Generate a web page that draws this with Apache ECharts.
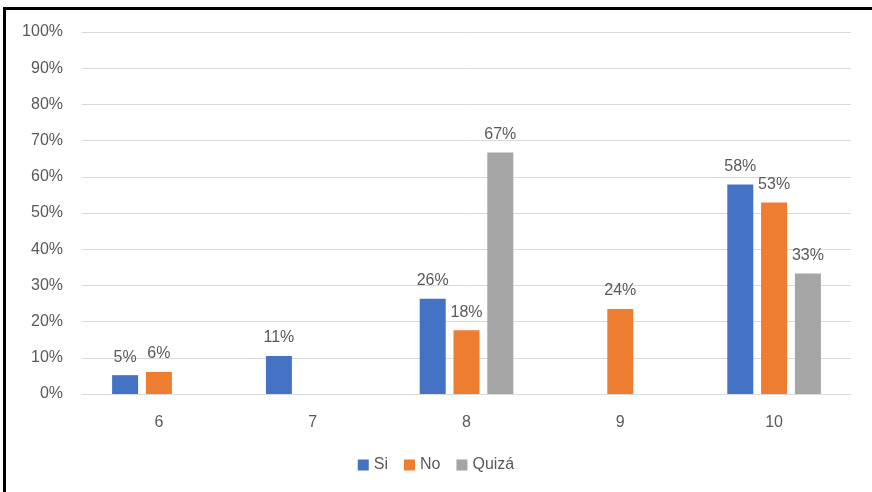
<!DOCTYPE html>
<html>
<head>
<meta charset="utf-8">
<script src="https://cdn.jsdelivr.net/npm/echarts@6/dist/echarts.min.js"></script>
<style>
html,body{margin:0;padding:0;background:#fff;}
#wrap{position:relative;width:872px;height:492px;overflow:hidden;}
#frame{position:absolute;left:3px;top:7px;width:900px;height:520px;border-top:3px solid #000;border-left:3px solid #000;box-sizing:border-box;pointer-events:none;}
#chart{position:absolute;left:0;top:0;width:872px;height:492px;}
</style>
</head>
<body>
<div id="wrap"><div id="chart"></div><div id="frame"></div></div>
<script>
var categories = ['6','7','8','9','10'];
var siValues = [5.2, 10.5, 26.3, null, 57.9];
var noValues = [6.1, null, 17.6, 23.5, 52.9];
var quizaValues = [null, null, 66.7, null, 33.3];
var yTicks = [0,10,20,30,40,50,60,70,80,90,100];

var font = "'Liberation Sans', Arial, sans-serif";
var textColor = '#595959';
function lbl(){
  return {show:true, position:'top', distance:10, color:textColor, fontSize:16, fontFamily:font,
    formatter:function(p){return Math.round(p.value)+'%';}};
}
var chart = echarts.init(document.getElementById('chart'), null, {renderer:'canvas'});
chart.setOption({
  animation:false,
  grid:{left:82, right:21, top:32, bottom:98, containLabel:false},
  legend:{bottom:14, left:'center', itemWidth:11, itemHeight:11, itemGap:16,
    icon:'rect', textStyle:{color:textColor, fontSize:16, fontFamily:font},
    data:['Si','No','Quizá']},
  xAxis:{type:'category', data:categories,
    axisLine:{lineStyle:{color:'#d9d9d9', width:1}}, axisTick:{show:false},
    axisLabel:{color:textColor, fontSize:16, fontFamily:font, margin:21}},
  yAxis:{type:'value', min:0, max:100, interval:10,
    axisLine:{show:false}, axisTick:{show:false},
    splitLine:{lineStyle:{color:'#d9d9d9', width:1}},
    axisLabel:{color:textColor, fontSize:16, fontFamily:font, margin:19,
      formatter:function(v){return yTicks.indexOf(v)>=0 ? v+'%' : '';}}},
  series:[
    {name:'Si', type:'bar', data:siValues, barWidth:26, barGap:'30%', itemStyle:{color:'#4472C4'}, label:lbl()},
    {name:'No', type:'bar', data:noValues, barWidth:26, barGap:'30%', itemStyle:{color:'#ED7D31'}, label:lbl()},
    {name:'Quizá', type:'bar', data:quizaValues, barWidth:26, barGap:'30%', itemStyle:{color:'#A5A5A5'}, label:lbl()}
  ]
});
</script>
</body>
</html>
